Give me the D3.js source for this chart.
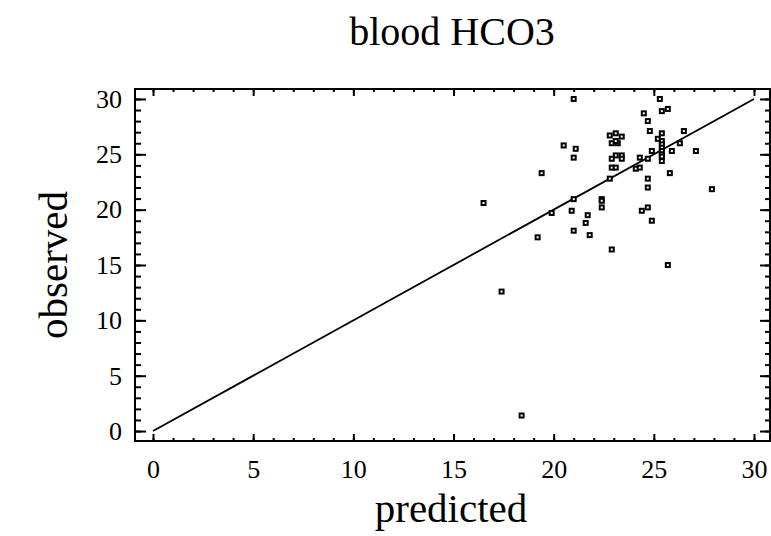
<!DOCTYPE html>
<html><head><meta charset="utf-8">
<script src="https://cdn.jsdelivr.net/npm/d3@7"></script>
<style>body{margin:0;background:#fff}svg{display:block}text{font-family:"Liberation Serif","Times New Roman",serif;fill:#000}</style>
</head><body>
<script>
const title = "blood HCO3";
const xLabel = "predicted";
const yLabel = "observed";
const xTicks = [0, 5, 10, 15, 20, 25, 30];
const yTicks = [0, 5, 10, 15, 20, 25, 30];
const predicted = [21.0, 20.5, 21.1, 21.0, 19.4, 21.0, 25.3, 25.4, 25.7, 24.5, 24.7, 24.8, 25.4, 26.5, 22.8, 23.1, 23.4, 22.9, 23.2, 23.1, 25.2,
  25.4, 25.4, 25.4, 25.4, 25.4, 25.4, 25.4, 26.3, 24.9, 25.9, 27.1, 23.1, 23.4, 22.9, 23.4, 24.3, 24.7, 22.9, 23.1, 24.1, 24.3, 22.8, 25.8,
  24.7, 24.7, 27.9, 22.4, 16.5, 19.9, 20.9, 21.7, 21.6, 21.0, 19.2, 21.8, 17.4, 22.4, 22.4, 24.4, 24.7, 24.9, 22.9, 25.7, 18.4];
const observed = [30.0, 25.8, 25.5, 24.7, 23.3, 20.95, 30.0, 28.9, 29.1, 28.7, 28.0, 27.1, 26.9, 27.1, 26.7, 26.9, 26.6, 26.0, 26.0, 26.2, 26.4,
  26.2, 25.9, 25.6, 25.3, 25.0, 24.8, 24.4, 26.0, 25.3, 25.3, 25.3, 24.9, 24.9, 24.6, 24.6, 24.7, 24.6, 23.8, 23.8, 23.7, 23.8, 22.8, 23.3,
  22.8, 22.0, 21.85, 20.95, 20.6, 19.7, 19.9, 19.5, 18.8, 18.1, 17.5, 17.7, 12.6, 20.8, 20.2, 19.9, 20.2, 19.0, 16.4, 15.0, 1.4];
const fitLine = [[0, 0], [30, 30]];

const W = 771, H = 536;
const L = 135, R = 770, T = 89, B = 441;
const svg = d3.select("body").append("svg").attr("width", W).attr("height", H);
const x = d3.scaleLinear().domain([-0.9, 30.8]).range([L, R]);
const y = d3.scaleLinear().domain([-0.9, 30.9]).range([B, T]);
const minor = d3.range(0, 31, 1);

svg.append("rect").attr("x", L).attr("y", T).attr("width", R - L).attr("height", B - T)
  .attr("fill", "none").attr("stroke", "#000").attr("stroke-width", 2);

const gb = svg.append("g").attr("transform", `translate(0,${B})`);
gb.call(d3.axisBottom(x).tickValues(minor).tickSizeInner(-3).tickFormat(""));
const gb2 = svg.append("g").attr("transform", `translate(0,${B})`);
gb2.call(d3.axisBottom(x).tickValues(xTicks).tickSizeInner(-7).tickSizeOuter(0).tickPadding(19).tickFormat(d3.format("d")));
const gt = svg.append("g").attr("transform", `translate(0,${T})`);
gt.call(d3.axisTop(x).tickValues(minor).tickSizeInner(-3).tickFormat(""));
const gt2 = svg.append("g").attr("transform", `translate(0,${T})`);
gt2.call(d3.axisTop(x).tickValues(xTicks).tickSizeInner(-7).tickFormat(""));
const gl = svg.append("g").attr("transform", `translate(${L},0)`);
gl.call(d3.axisLeft(y).tickValues(minor).tickSizeInner(-6).tickFormat(""));
const gl2 = svg.append("g").attr("transform", `translate(${L},0)`);
gl2.call(d3.axisLeft(y).tickValues(yTicks).tickSizeInner(-11).tickPadding(13).tickFormat(d3.format("d")));
const gr = svg.append("g").attr("transform", `translate(${R},0)`);
gr.call(d3.axisRight(y).tickValues(minor).tickSizeInner(-5).tickFormat(""));
const gr2 = svg.append("g").attr("transform", `translate(${R},0)`);
gr2.call(d3.axisRight(y).tickValues(yTicks).tickSizeInner(-10).tickFormat(""));
svg.selectAll(".domain").remove();
svg.selectAll(".tick line").attr("stroke", "#000").attr("stroke-width", 2);
svg.selectAll(".tick text").style("font-size", "26px").style("font-family", "'Liberation Serif', serif").attr("fill", "#000");

svg.append("path").datum(fitLine)
  .attr("d", d3.line().x(d => x(d[0])).y(d => y(d[1])))
  .attr("stroke", "#000").attr("stroke-width", 1.8).attr("fill", "none");

svg.append("g").selectAll("rect").data(predicted.map((p, i) => [p, observed[i]])).join("rect")
  .attr("x", d => x(d[0]) - 2).attr("y", d => y(d[1]) - 2)
  .attr("width", 4).attr("height", 4)
  .attr("fill", "#fff").attr("stroke", "#000").attr("stroke-width", 2);

svg.append("text").attr("x", 452).attr("y", 45).attr("text-anchor", "middle").style("font-size", "40px").text(title);
svg.append("text").attr("x", 451).attr("y", 522).attr("text-anchor", "middle").style("font-size", "41px").text(xLabel);
svg.append("text").attr("transform", `translate(67,265) rotate(-90)`).attr("text-anchor", "middle").style("font-size", "41px").text(yLabel);
</script>
</body></html>
